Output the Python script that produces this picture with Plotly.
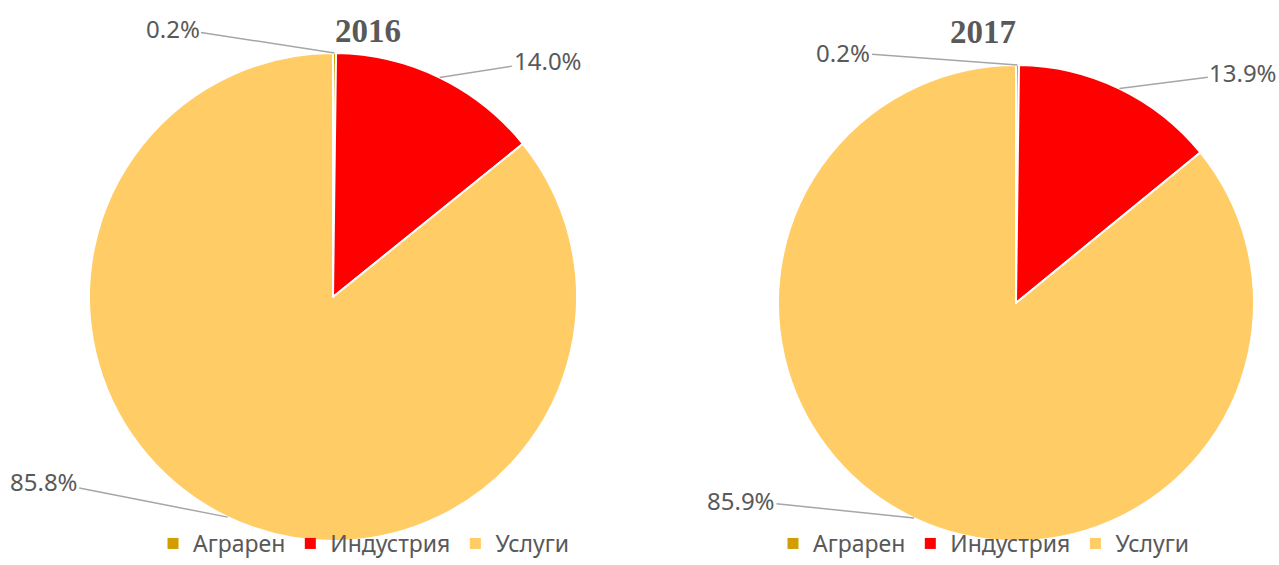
import math
import plotly.graph_objects as go

# ---- data ----
categories = ["Аграрен", "Индустрия", "Услуги"]
years = ["2016", "2017"]
values_2016 = [0.2, 14.0, 85.8]
values_2017 = [0.2, 13.9, 85.9]
colors = ["#D29D00", "#FF0000", "#FFCC66"]

W, H = 1279, 565
# pie geometry (pixels): center x, center y (from top), radius
pies = [
    dict(year="2016", vals=values_2016, cx=333, cy=297, r=244, legend="legend",
         offsets=[(-162, -25), (108, -17), (-184, -36)], title_xy=(368, 31)),
    dict(year="2017", vals=values_2017, cx=1016, cy=303, r=238, legend="legend2",
         offsets=[(-174, -13), (124, -16), (-173, -18)], title_xy=(983, 32)),
]

fig = go.Figure()
annotations = []
gray = "#595959"
font_lbl = dict(family="Noto Sans, Open Sans, sans-serif", size=24, color=gray)

for p in pies:
    cx, cy, r = p["cx"], p["cy"], p["r"]
    fig.add_trace(go.Pie(
        labels=categories, values=p["vals"], sort=False, direction="clockwise",
        rotation=0, textinfo="none", hoverinfo="label+percent",
        marker=dict(colors=colors, line=dict(color="white", width=2)),
        domain=dict(x=[(cx - r) / W, (cx + r) / W],
                    y=[(H - cy - r) / H, (H - cy + r) / H]),
        showlegend=False,
    ))
    # legend entries (one legend per pie)
    for cat, col in zip(categories, colors):
        fig.add_trace(go.Scatter(
            x=[None], y=[None], mode="markers", name=cat,
            marker=dict(symbol="square", size=11, color=col),
            legend=p["legend"], showlegend=True, hoverinfo="skip",
        ))
    total = sum(p["vals"])
    cum = 0.0
    for v, (ox, oy) in zip(p["vals"], p["offsets"]):
        mid = (cum + v / 2) / total * 2 * math.pi
        cum += v
        tx = cx + r * math.sin(mid)
        ty = cy - r * math.cos(mid)
        annotations.append(dict(
            x=tx / W, y=(H - ty) / H, xref="paper", yref="paper",
            text=f"{v:.1f}%", showarrow=True, arrowhead=0, arrowwidth=1.5,
            arrowcolor="#A6A6A6", ax=ox, ay=oy, font=font_lbl,
        ))
    tx, ty = p["title_xy"]
    annotations.append(dict(
        x=tx / W, y=(H - ty) / H, xref="paper", yref="paper", showarrow=False,
        xanchor="center", yanchor="middle",
        text=f"<b>{p['year']}</b>",
        font=dict(family="Liberation Serif, Times New Roman, serif", size=33, color=gray),
    ))

legend_common = dict(orientation="h", xanchor="left", yanchor="bottom",
                     font=dict(family="Noto Sans, Open Sans, sans-serif", size=23, color=gray),
                     bgcolor="rgba(0,0,0,0)", traceorder="normal", borderwidth=0)

fig.update_layout(
    width=W, height=H, margin=dict(l=0, r=0, t=0, b=0, autoexpand=False),
    paper_bgcolor="white", plot_bgcolor="white",
    xaxis=dict(visible=False), yaxis=dict(visible=False),
    annotations=annotations,
    legend=dict(x=153 / W, y=0, **legend_common),
    legend2=dict(x=773 / W, y=0, **legend_common),
)

fig.write_html("out.html", config={"displayModeBar": False},
               post_script="document.body.style.margin='0px';document.body.style.overflow='hidden';")
